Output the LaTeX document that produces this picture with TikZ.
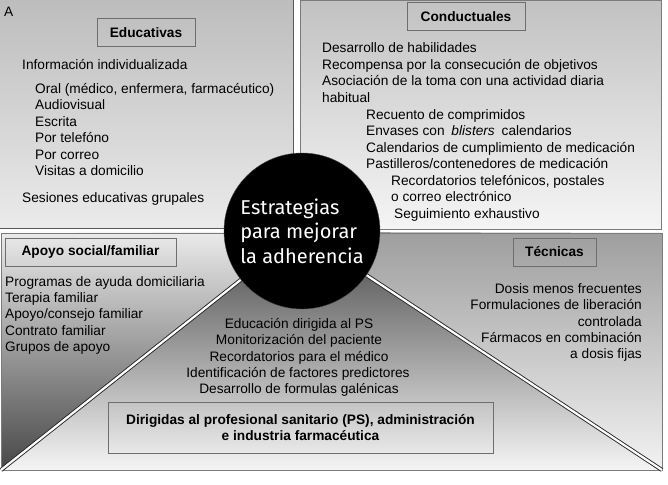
\documentclass[tikz,border=0pt]{standalone}
\usepackage{fontspec}
\setmainfont{Liberation Sans}
\newfontfamily\circlefont{Fira Sans}
\definecolor{boxgray}{HTML}{6E6E6E}
\definecolor{edgegray}{HTML}{5A5A5A}

\begin{document}
\begin{tikzpicture}[x=1pt,y=-1pt,
  txt/.style={anchor=base west,inner sep=0pt,font=\fontsize{13.7}{16.5}\selectfont},
  txtr/.style={txt,anchor=base east},
  txtc/.style={txt,anchor=base},
  head/.style={rectangle,draw=boxgray,inner sep=0pt,font=\fontsize{13.7}{16.5}\selectfont\bfseries},
  split/.style={draw=black!85,line width=0.9pt,double=white,double distance=2.2pt}]
\useasboundingbox[fill=white] (0,0) rectangle (668,484);

% top panels
\shade[top color=black!26,bottom color=black!8] (0,0) rectangle (293,228);
\draw[edgegray,line width=1pt] (293,0) -- (293,228) -- (0,228);
\shade[top color=black!24,bottom color=black!4] (300,0) rectangle (661,229);
\draw[edgegray!80,line width=0.8pt] (300,0) rectangle (661,229);

% bottom panel
\coordinate (ctr) at (301,232);
\coordinate (tl) at (1,233);
\coordinate (tr) at (662,233);
\coordinate (bl) at (1,470);
\coordinate (br) at (662,470);
\shade[top color=black!8,middle color=black!28,bottom color=black!72] (tl) -- (ctr) -- (bl) -- cycle;
\shade[top color=black!38,middle color=black!20,bottom color=black!5] (ctr) -- (tr) -- (br) -- cycle;
\shade[top color=black!72,middle color=black!32,bottom color=black!4] (bl) -- (ctr) -- (br) -- cycle;
\draw[edgegray!80,line width=0.8pt] (tl) rectangle (br);
\draw[split] (ctr) -- (bl);
\draw[split] (ctr) -- (br);

\node[circle,fill=black,draw=black!70,minimum size=156pt,inner sep=0pt,
  align=left,text=white,font=\circlefont\fontsize{20}{24.5}\selectfont] (mid) at (302,231)
  {Estrategias\\para mejorar\\la adherencia};

% Educativas
\node[txt] (letA) at (4,17) {A};
\node[head,minimum width=98pt,minimum height=28pt] (edu) at (146,32.5) {Educativas};
\node[txt] (edu1) at (22,70) {Información individualizada};
\node[txt] (edu2) at (35,93) {Oral (médico, enfermera, farmacéutico)};
\node[txt] (edu3) at (35,109.5) {Audiovisual};
\node[txt] (edu4) at (35,126) {Escrita};
\node[txt] (edu5) at (35,142.5) {Por telefóno};
\node[txt] (edu6) at (35,159) {Por correo};
\node[txt] (edu7) at (35,175.5) {Visitas a domicilio};
\node[txt] (edu8) at (22,202) {Sesiones educativas grupales};

% Conductuales
\node[head,minimum width=118pt,minimum height=28pt] (cond) at (466,16.7) {Conductuales};
\node[txt] (cond1) at (322,53) {Desarrollo de habilidades};
\node[txt] (cond2) at (322,69.5) {Recompensa por la consecución de objetivos};
\node[txt] (cond3) at (322,86) {Asociación de la toma con una actividad diaria};
\node[txt] (cond4) at (322,102.5) {habitual};
\node[txt] (cond5) at (366,119) {Recuento de comprimidos};
\node[txt] (cond6) at (366,135.5) {Envases con\hspace{3pt} \textit{blisters}\hspace{3pt} calendarios};
\node[txt] (cond7) at (366,152) {Calendarios de cumplimiento de medicación};
\node[txt] (cond8) at (366,168.5) {Pastilleros/contenedores de medicación};
\node[txt] (cond9) at (391,185) {Recordatorios telefónicos, postales};
\node[txt] (cond10) at (391,201.5) {o correo electrónico};
\node[txt] (cond11) at (394,218) {Seguimiento exhaustivo};

% Apoyo social/familiar
\node[head,minimum width=171pt,minimum height=28pt] (apoyo) at (90.5,252) {Apoyo social/familiar};
\node[txt] (apo1) at (5,286) {Programas de ayuda domiciliaria};
\node[txt] (apo2) at (5,302.3) {Terapia familiar};
\node[txt] (apo3) at (5,318.6) {Apoyo/consejo familiar};
\node[txt] (apo4) at (5,335) {Contrato familiar};
\node[txt] (apo5) at (5,351.3) {Grupos de apoyo};

% Tecnicas
\node[head,minimum width=83pt,minimum height=28pt] (tec) at (554.5,252) {Técnicas};
\node[txtr] (tec1) at (642,293.3) {Dosis menos frecuentes};
\node[txtr] (tec2) at (642,309.6) {Formulaciones de liberación};
\node[txtr] (tec3) at (642,326) {controlada};
\node[txtr] (tec4) at (642,342.3) {Fármacos en combinación};
\node[txtr] (tec5) at (642,358.6) {a dosis fijas};

% profesional sanitario
\node[txtc] (ps1) at (299,328.3) {Educación dirigida al PS};
\node[txtc] (ps2) at (299,344.7) {Monitorización del paciente};
\node[txtc] (ps3) at (299,361) {Recordatorios para el médico};
\node[txtc] (ps4) at (298,377.4) {Identificación de factores predictores};
\node[txtc] (ps5) at (299,393.7) {Desarrollo de formulas galénicas};
\node[head,minimum width=385pt,minimum height=51pt,align=center] (psbox) at (300.5,427.5)
  {Dirigidas al profesional sanitario (PS), administración\\e industria farmacéutica};
\end{tikzpicture}
\end{document}
